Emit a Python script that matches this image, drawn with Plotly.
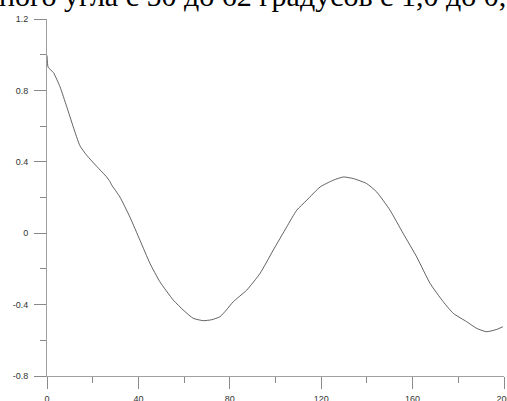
import plotly.graph_objects as go

# Measured response curve
x_vals = [0, 0.5, 2.8, 5.7, 8.6, 11.5, 14.4, 17.4, 21.7, 26.1, 27.5, 28.3, 31.9,
          36.3, 40.7, 45.1, 49.4, 55.3, 60, 64, 68.4, 72, 75.7, 78.5, 81.5, 87.4,
          93.2, 99, 104.9, 109.3, 113.7, 119.5, 125.3, 129.7, 134.1, 139.9, 144.3,
          150.1, 155.9, 161.8, 167.6, 173.4, 177.8, 183.7, 188, 192.4, 196.8, 199.5]
y_vals = [0.996, 0.93, 0.90, 0.82, 0.71, 0.595, 0.49, 0.436, 0.375, 0.315, 0.29,
          0.27, 0.203, 0.09, -0.04, -0.17, -0.272, -0.375, -0.435, -0.477, -0.49,
          -0.485, -0.468, -0.43, -0.384, -0.319, -0.226, -0.095, 0.035, 0.129,
          0.185, 0.259, 0.297, 0.315, 0.306, 0.278, 0.231, 0.129, -0.002, -0.133,
          -0.28, -0.384, -0.449, -0.496, -0.533, -0.552, -0.539, -0.524]

x_ticks = [0, 40, 80, 120, 160, 200]
x_tick_text = ["0", "40", "80", "120", "160", "200"]
y_ticks = [-0.8, -0.4, 0, 0.4, 0.8, 1.2]
y_tick_text = ["-0.8", "-0.4", "0", "0.4", "0.8", "1.2"]
x_minor = [20, 60, 100, 140, 180]
y_minor = [-0.6, -0.2, 0.2, 0.6, 1.0]

caption = "ного угла с 50 до 62 градусов с 1,0 до 0,5"

fig = go.Figure()
fig.add_trace(go.Scatter(
    x=x_vals, y=y_vals, mode="lines",
    line=dict(color="#3a3a3a", width=0.8, shape="spline", smoothing=0.5),
    hoverinfo="skip", showlegend=False,
))

axis_common = dict(
    showgrid=False, zeroline=False, showline=True, automargin=False,
    linecolor="#a0a0a0", linewidth=1,
    ticks="outside", ticklen=12, tickwidth=1, tickcolor="#8a8a8a",
    tickfont=dict(family="Liberation Sans, Arial", size=9, color="#333333"),
    ticklabeloverflow="allow",
)

fig.update_xaxes(
    range=[0, 200], tickmode="array", tickvals=x_ticks, ticktext=x_tick_text,
    ticklabelstandoff=2,
    minor=dict(tickmode="array", tickvals=x_minor, ticks="outside",
               ticklen=6, tickcolor="#8a8a8a", showgrid=False),
    **axis_common,
)
fig.update_yaxes(
    range=[-0.8, 1.2], tickmode="array", tickvals=y_ticks, ticktext=y_tick_text,
    ticklabelstandoff=4,
    minor=dict(tickmode="array", tickvals=y_minor, ticks="outside",
               ticklen=6, tickcolor="#8a8a8a", showgrid=False),
    **axis_common,
)

fig.add_annotation(
    text=caption, xref="paper", yref="paper",
    x=-0.1094, y=1.066, xanchor="left", yanchor="middle",
    showarrow=False,
    font=dict(family="Liberation Serif, Times New Roman", size=30, color="#000000"),
)

fig.update_layout(
    width=507, height=401,
    margin=dict(l=47, r=3, t=18.5, b=25),
    paper_bgcolor="white", plot_bgcolor="white",
)

fig.write_html("out.html")
